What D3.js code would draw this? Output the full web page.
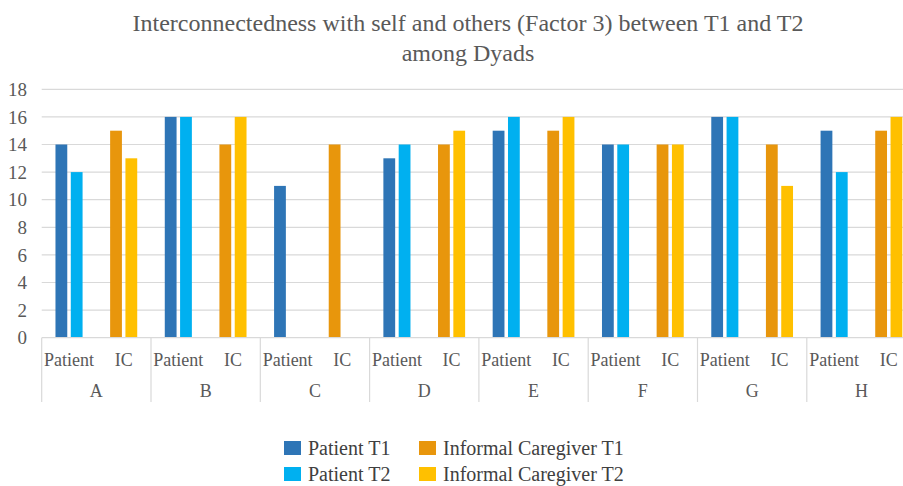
<!DOCTYPE html>
<html>
<head>
<meta charset="utf-8">
<script src="https://cdn.jsdelivr.net/npm/d3@7"></script>
<style>
  html, body { margin: 0; padding: 0; background: #fff; }
  svg { display: block; }
</style>
</head>
<body>
<svg id="chart" width="903" height="486"></svg>
<script>
// ---- data ----
const groups = ["A", "B", "C", "D", "E", "F", "G", "H"];
const subcategories = ["Patient", "IC"];
const seriesNames = ["Patient T1", "Patient T2", "Informal Caregiver T1", "Informal Caregiver T2"];
const patientT1 = [14, 16, 11, 13, 15, 14, 16, 15];
const patientT2 = [12, 16, null, 14, 16, 14, 16, 12];
const caregiverT1 = [15, 14, 14, 14, 15, 14, 14, 15];
const caregiverT2 = [13, 16, null, 15, 16, 14, 11, 16];
const yTicks = [0, 2, 4, 6, 8, 10, 12, 14, 16, 18];
const titleLines = ["Interconnectedness with self and others (Factor 3) between T1 and T2", "among Dyads"];

const colors = ["#2E75B6", "#00B0F0", "#E8960C", "#FFC000"];
const seriesValues = [patientT1, patientT2, caregiverT1, caregiverT2];
const seriesSub = ["Patient", "Patient", "IC", "IC"];
const FONT = "'Liberation Serif', Tinos, 'Times New Roman', Times, 'DejaVu Serif', serif";

const svg = d3.select("#chart").attr("font-family", FONT);

// scales
const x0 = d3.scaleBand().domain(groups).range([41.7, 916.1]).padding(0);
const x1 = d3.scaleBand().domain(subcategories).range([0, x0.bandwidth()]).padding(0);
const xPatient = d3.scaleBand().domain([seriesNames[0], seriesNames[1]]).range([0, x1.bandwidth()]).paddingInner(0.23).paddingOuter(0.9);
const xIC = d3.scaleBand().domain([seriesNames[2], seriesNames[3]]).range([0, x1.bandwidth()]).paddingInner(0.23).paddingOuter(0.9);
const y = d3.scaleLinear().domain([0, 18]).range([337.7, 89.3]);

// gridlines
svg.append("g").selectAll("line").data(yTicks.filter(d => d > 0)).join("line")
  .attr("x1", 41.7).attr("x2", 903)
  .attr("y1", d => y(d)).attr("y2", d => y(d))
  .attr("stroke", "#D9D9D9").attr("stroke-width", 1.2);

// y tick labels
svg.append("g").selectAll("text").data(yTicks).join("text")
  .attr("font-family", FONT)
  .attr("x", 27).attr("y", d => y(d))
  .attr("dy", "0.35em")
  .attr("text-anchor", "end")
  .attr("font-size", 19)
  .attr("fill", "#595959")
  .text(d => d);

// bars
const barData = [];
seriesNames.forEach((s, si) => {
  groups.forEach((g, gi) => {
    const v = seriesValues[si][gi];
    if (v !== null && v !== undefined) barData.push({ series: s, si, group: g, value: v });
  });
});
svg.append("g").selectAll("rect").data(barData).join("rect")
  .attr("x", d => {
    const sub = seriesSub[d.si];
    const inner = sub === "Patient" ? xPatient : xIC;
    return x0(d.group) + x1(sub) + inner(d.series);
  })
  .attr("width", d => (seriesSub[d.si] === "Patient" ? xPatient : xIC).bandwidth())
  .attr("y", d => y(d.value))
  .attr("height", d => y(0) - y(d.value))
  .attr("fill", d => colors[d.si]);

// x axis line
svg.append("line")
  .attr("x1", 41.7).attr("x2", 903)
  .attr("y1", y(0)).attr("y2", y(0))
  .attr("stroke", "#D9D9D9").attr("stroke-width", 1.2);

// group separators
svg.append("g").selectAll("line").data(groups).join("line")
  .attr("x1", d => x0(d)).attr("x2", d => x0(d))
  .attr("y1", y(0)).attr("y2", 402)
  .attr("stroke", "#D9D9D9").attr("stroke-width", 1.2);

// subcategory labels
const subLabels = [];
groups.forEach(g => subcategories.forEach(s => subLabels.push({ g, s })));
svg.append("g").selectAll("text").data(subLabels).join("text")
  .attr("font-family", FONT)
  .attr("x", d => x0(d.g) + x1(d.s) + x1.bandwidth() / 2)
  .attr("y", 366)
  .attr("text-anchor", "middle")
  .attr("font-size", 18)
  .attr("fill", "#595959")
  .text(d => d.s);

// group labels
svg.append("g").selectAll("text").data(groups).join("text")
  .attr("font-family", FONT)
  .attr("x", d => x0(d) + x0.bandwidth() / 2)
  .attr("y", 397)
  .attr("text-anchor", "middle")
  .attr("font-size", 18)
  .attr("fill", "#595959")
  .text(d => d);

// title
svg.append("g").selectAll("text").data(titleLines).join("text")
  .attr("font-family", FONT)
  .attr("x", 468)
  .attr("y", (d, i) => 31 + i * 30)
  .attr("text-anchor", "middle")
  .attr("font-size", 24)
  .attr("fill", "#595959")
  .text(d => d);

// legend
const legendPos = [
  { x: 284, y: 441 }, { x: 284, y: 467 },
  { x: 419, y: 441 }, { x: 419, y: 467 }
];
const lg = svg.append("g").selectAll("g").data(seriesNames).join("g")
  .attr("transform", (d, i) => `translate(${legendPos[i].x},${legendPos[i].y})`);
lg.append("rect").attr("width", 17).attr("height", 14).attr("fill", (d, i) => colors[i]);
lg.append("text").attr("font-family", FONT).attr("x", 24).attr("y", 7).attr("dy", "0.35em")
  .attr("font-size", 20).attr("fill", "#404040").text(d => d);
</script>
</body>
</html>
